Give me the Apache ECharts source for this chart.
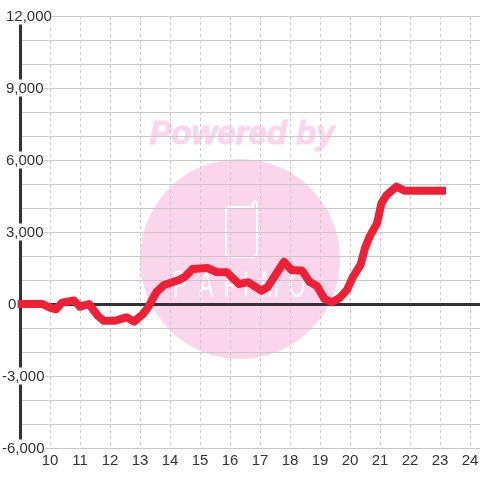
<!DOCTYPE html>
<html>
<head>
<meta charset="utf-8">
<style>html,body{margin:0;padding:0;background:#fff}#c{width:480px;height:480px}</style>
<script src="https://cdn.jsdelivr.net/npm/echarts@6/dist/echarts.min.js"></script>
</head>
<body>
<div id="c"></div>
<script>
const hours = [8.92,9.75,10,10.2,10.4,10.8,11,11.3,11.6,11.8,12.15,12.55,12.8,13.1,13.25,13.55,13.8,14.3,14.5,14.75,15.25,15.55,15.9,16.3,16.6,17.05,17.25,17.8,18.05,18.4,18.65,18.9,19.15,19.4,19.65,19.9,20.1,20.35,20.5,20.65,20.9,21.05,21.22,21.55,21.82,23.2];
const values = [0,0,-150,-220,55,150,-110,0,-500,-700,-700,-555,-735,-415,-170,500,790,1000,1140,1460,1500,1330,1320,830,910,555,700,1760,1420,1390,930,750,210,70,250,590,1140,1625,2330,2800,3360,4200,4540,4890,4720,4720];
const yLabels = [-6000,-3000,0,3000,6000,9000,12000];
const brand = "PAPIMO";
const brandX = [180,206,231,246,270,297];
const poweredBy = "Powered by";

const chart = echarts.init(document.getElementById('c'), null, {renderer:'canvas'});
const grey = '#c8c8c8', dark = '#333333', pink = '#fbd5ec';
function yFmt(v){
  if (!yLabels.includes(v)) return '';
  const s = v.toLocaleString('en-US');
  if (v < 0) return '{n|' + s + '}';
  return v === 0 ? '{z|' + s + '}' : '{p|' + s + '}';
}
const txt = {color:dark,fontSize:15,fontFamily:'Liberation Sans',lineHeight:17};
chart.setOption({
  animation:false,
  backgroundColor:'#fff',
  grid:{left:20,right:0,top:16,bottom:32,containLabel:false,outerBoundsMode:'none'},
  graphic:[
    {type:'circle',z:-10,silent:true,shape:{cx:240,cy:259,r:100},style:{fill:pink}},
    {type:'text',z:-10,silent:true,x:242,y:135,style:{text:poweredBy,fill:pink,stroke:pink,lineWidth:1,font:'italic bold 33px "Liberation Sans"',align:'center',verticalAlign:'middle'}},
    {type:'polyline',z:-9,silent:true,shape:{points:[[249,207],[229,207],[226,210],[226,254],[229,257],[254,257],[257,254],[257,203],[255,201],[253,203],[253,207],[249,207]]},style:{stroke:'#fff',lineWidth:2,fill:null}}
  ].concat(brand.split('').map((c,i)=>({type:'text',z:-9,silent:true,x:brandX[i],y:287,scaleX:1,scaleY:1.7,style:{text:c,fill:'#fff',font:'22px "Liberation Sans"',align:'center',verticalAlign:'middle'}}))),
  xAxis:[
    {type:'value',min:9,max:24.3333,interval:1,position:'bottom',
     axisLine:{show:false},axisTick:{show:false},
     axisLabel:{showMinLabel:false,showMaxLabel:false,color:dark,fontSize:15,fontFamily:'Liberation Sans',margin:5,
       formatter:v=>Number.isInteger(v)?String(v):''},
     splitLine:{show:true,showMinLine:false,showMaxLine:false,lineStyle:{color:grey,type:[3,3],width:1}}},
    {type:'value',min:9,max:24.3333,interval:1,position:'bottom',offset:-144,
     axisLine:{show:true,onZero:false,lineStyle:{color:dark,width:3}},
     axisTick:{show:false},axisLabel:{show:false},splitLine:{show:false}}
  ],
  yAxis:{type:'value',min:-6000,max:12000,interval:1000,
    axisLine:{show:true,onZero:false,lineStyle:{color:dark,width:3}},
    axisTick:{show:false},
    axisLabel:{show:true,align:'left',margin:18,color:dark,fontSize:15,fontFamily:'Liberation Sans',
      backgroundColor:'#fff',formatter:yFmt,
      rich:{n:Object.assign({padding:[2,0,0,0]},txt),
            p:Object.assign({padding:[2,0,0,4]},txt),
            z:Object.assign({padding:[2,0,0,6]},txt)}},
    splitLine:{show:true,lineStyle:{color:grey,width:1}}},
  series:[{type:'line',xAxisIndex:0,yAxisIndex:0,data:hours.map((h,i)=>[h,values[i]]),
    symbol:'none',clip:false,smooth:false,lineStyle:{color:'#ef2036',width:8,cap:'butt',join:'round'},z:5}]
});
</script>
</body>
</html>
